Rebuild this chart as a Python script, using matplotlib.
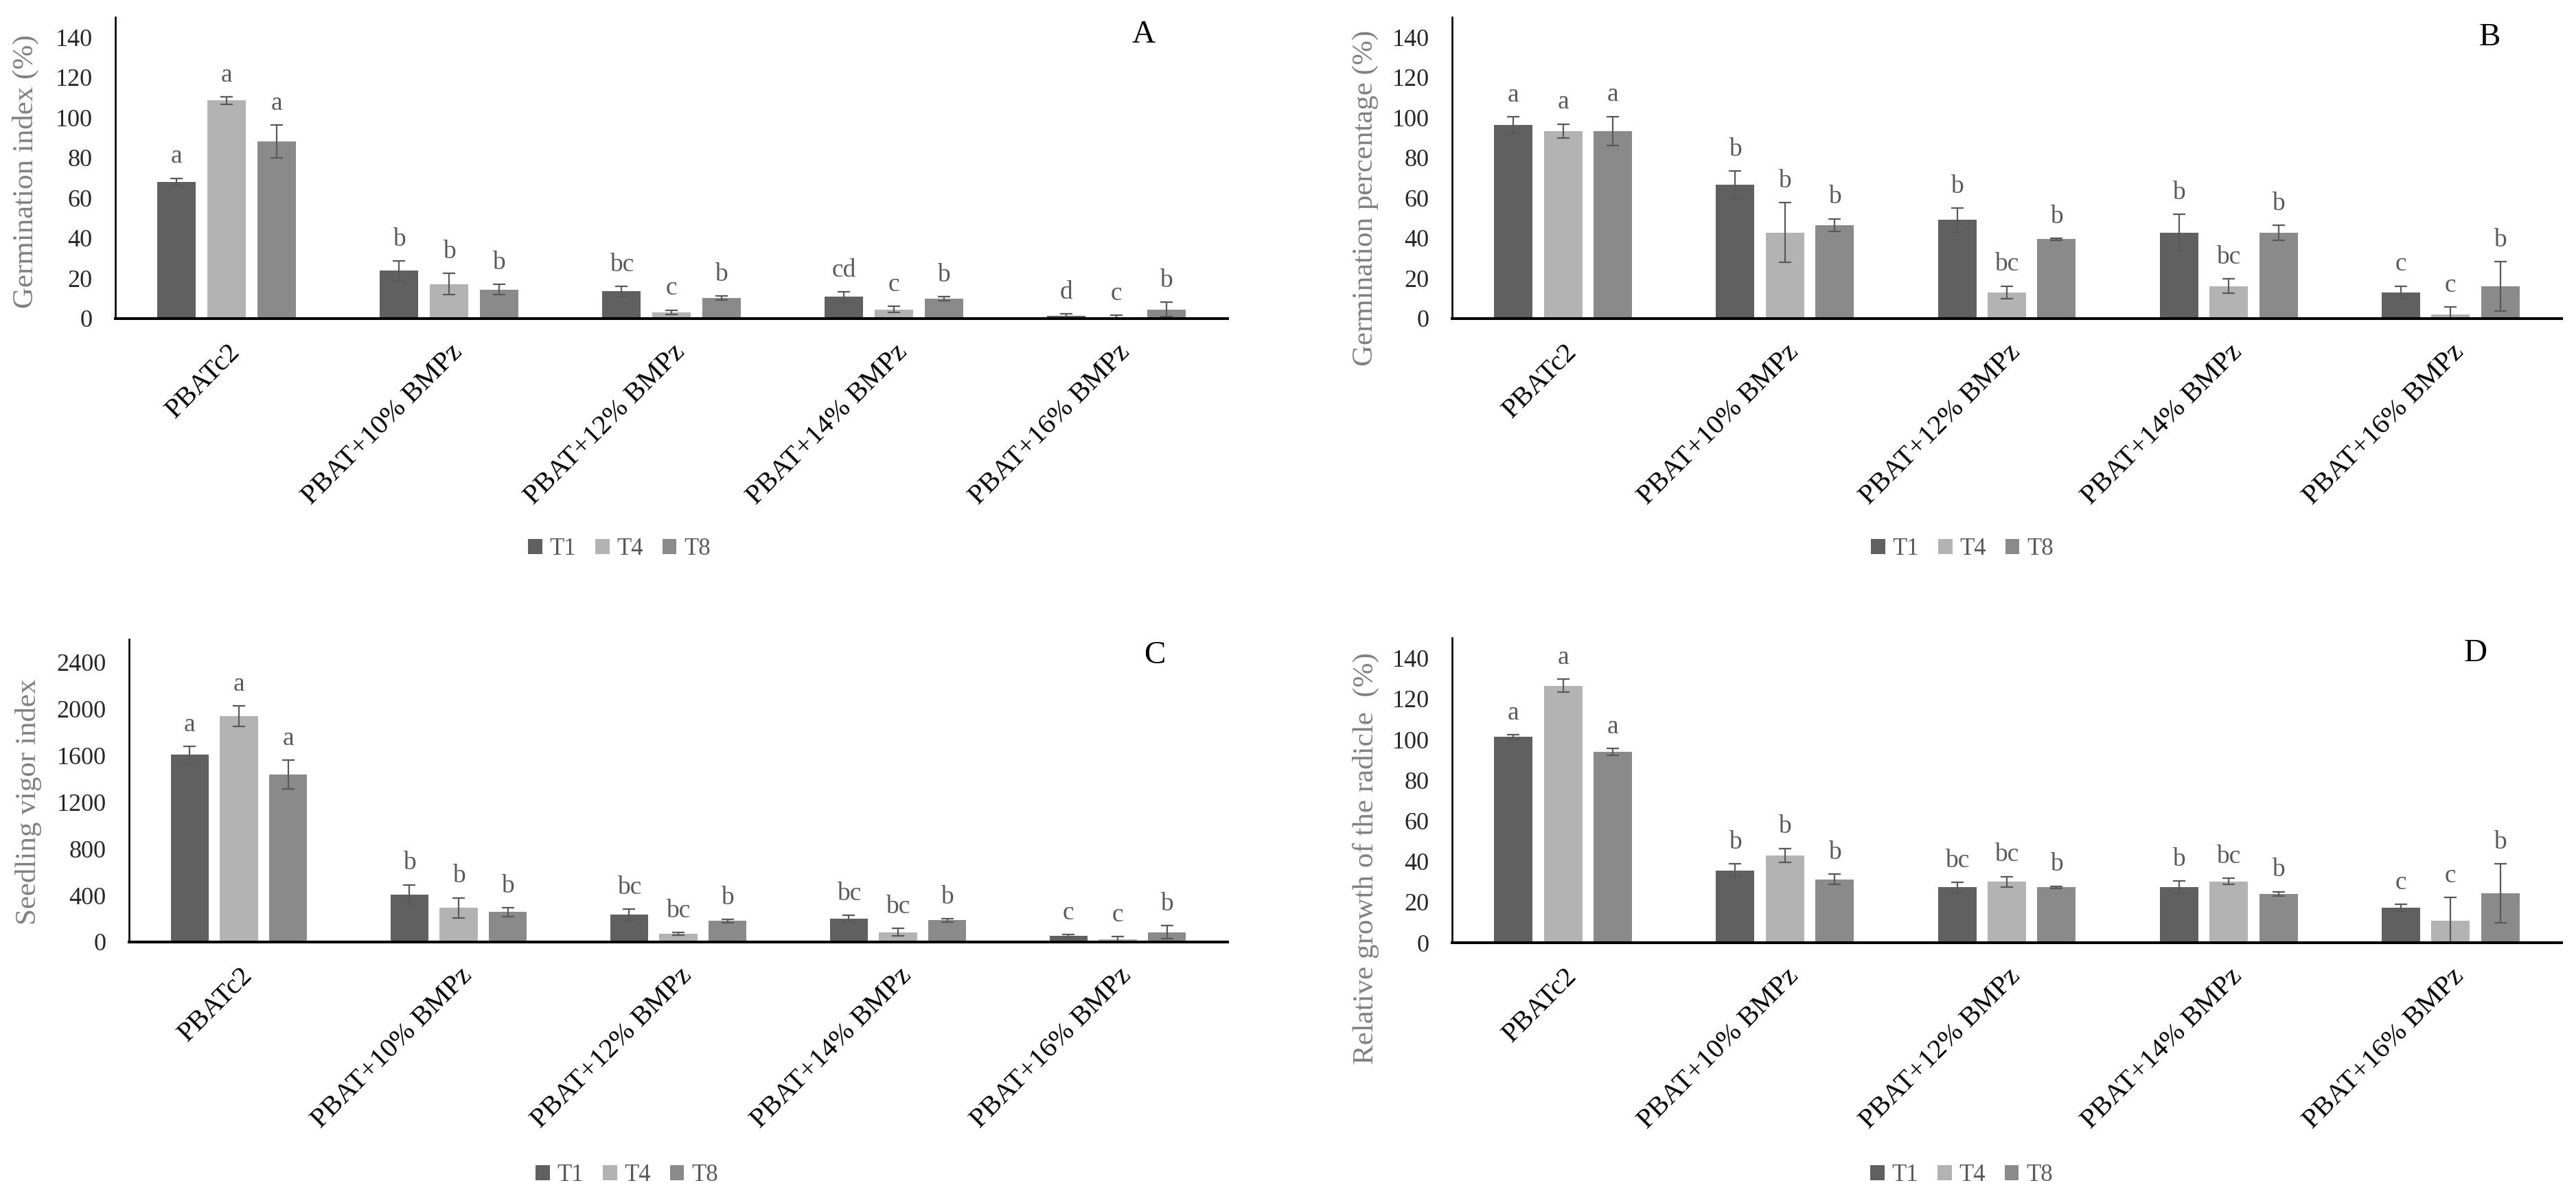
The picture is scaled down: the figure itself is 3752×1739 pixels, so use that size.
import matplotlib as mpl
mpl.use('Agg')
import numpy as np
import matplotlib.pyplot as plt
from matplotlib.patches import Patch

plt.rcParams['font.family'] = ['Liberation Serif', 'DejaVu Serif']

categories = ['PBATc2', 'PBAT+10% BMPz', 'PBAT+12% BMPz', 'PBAT+14% BMPz', 'PBAT+16% BMPz']
series = ['T1', 'T4', 'T8']
colors = ['#606060', '#b3b3b3', '#8a8a8a']

# A - germination index (%)
gi_mean = [[68.1, 23.8, 13.5, 10.8, 1.3],
           [108.5, 17.1, 3.2, 4.6, 0.5],
           [88.0, 14.5, 10.2, 9.8, 4.6]]
gi_err = [[1.7, 4.9, 2.5, 2.5, 1.0],
          [1.8, 5.3, 1.0, 1.5, 1.3],
          [8.2, 2.5, 1.0, 1.0, 3.5]]
gi_let = [['a', 'b', 'bc', 'cd', 'd'],
          ['a', 'b', 'c', 'c', 'c'],
          ['a', 'b', 'b', 'b', 'b']]

# B - germination percentage (%)
gp_mean = [[96.4, 66.6, 49.1, 42.8, 13.0],
           [93.3, 42.8, 13.0, 16.1, 2.2],
           [93.3, 46.5, 39.5, 42.8, 16.1]]
gp_err = [[4.0, 6.7, 6.0, 9.0, 3.2],
          [3.5, 14.8, 3.2, 3.6, 3.7],
          [7.3, 3.2, 0.5, 3.7, 12.3]]
gp_let = [['a', 'b', 'b', 'b', 'c'],
          ['a', 'b', 'bc', 'bc', 'c'],
          ['a', 'b', 'b', 'b', 'b']]

# C - seedling vigor index
sv_mean = [[1607, 407, 233, 200, 52],
           [1939, 294, 71, 84, 26],
           [1436, 258, 181, 187, 84]]
sv_err = [[73, 85, 48, 30, 10],
          [88, 86, 10, 32, 20],
          [124, 37, 15, 15, 55]]
sv_let = [['a', 'b', 'bc', 'bc', 'c'],
          ['a', 'b', 'bc', 'bc', 'c'],
          ['a', 'b', 'b', 'b', 'b']]

# D - relative growth of the radicle (%)
rg_mean = [[101.4, 35.6, 27.3, 27.3, 17.3],
           [126.5, 43.0, 30.0, 30.2, 10.8],
           [93.8, 31.2, 27.3, 24.1, 24.3]]
rg_err = [[1.0, 3.3, 2.5, 3.0, 1.7],
          [3.2, 3.4, 2.6, 1.4, 11.5],
          [1.7, 2.5, 0.5, 1.0, 14.4]]
rg_let = [['a', 'b', 'bc', 'b', 'c'],
          ['a', 'b', 'bc', 'bc', 'c'],
          ['a', 'b', 'b', 'b', 'b']]

W, H = 3752, 1739
fig = plt.figure(figsize=(W/100., H/100.), dpi=100)

def px(l, t, r, b):
    return [l/W, 1-b/H, (r-l)/W, (b-t)/H]

panels = [
    dict(rect=px(168, 25, 1788, 464), mean=gi_mean, err=gi_err, let=gi_let, ymax=150,
         ticks=np.arange(0, 141, 20), ylabel='Germination index (%)', lab='A',
         ylab_pos=(37, 250), lab_pos=(1666, 51), leg=(902, 800)),
    dict(rect=px(2115, 25, 3731, 464), mean=gp_mean, err=gp_err, let=gp_let, ymax=150,
         ticks=np.arange(0, 141, 20), ylabel='Germination percentage (%)', lab='B',
         ylab_pos=(1989, 288), lab_pos=(3626, 55), leg=(2858, 800)),
    dict(rect=px(188, 931, 1788, 1372), mean=sv_mean, err=sv_err, let=sv_let, ymax=2600,
         ticks=np.arange(0, 2401, 400), ylabel='Seedling vigor index', lab='C',
         ylab_pos=(42, 1168), lab_pos=(1682, 955), leg=(913, 1712)),
    dict(rect=px(2115, 929, 3731, 1373), mean=rg_mean, err=rg_err, let=rg_let, ymax=150,
         ticks=np.arange(0, 141, 20), ylabel='Relative growth of the radicle  (%)', lab='D',
         ylab_pos=(1989, 1250), lab_pos=(3606, 952), leg=(2857, 1712)),
]

x = np.arange(len(categories))
bw = 0.173
step = 0.224

for p in panels:
    ax = fig.add_axes(p['rect'])
    for k in range(3):
        xs = x + (k-1)*step
        ax.bar(xs, p['mean'][k], bw, color=colors[k], edgecolor='none', zorder=2)
        ax.errorbar(xs, p['mean'][k], yerr=p['err'][k], fmt='none', ecolor='#595959',
                    elinewidth=1.6, capsize=6.5, capthick=1.6, zorder=3)
        for xi, m, e, s in zip(xs, p['mean'][k], p['err'][k], p['let'][k]):
            ax.annotate(s, xy=(xi, m+e), xytext=(0, 16), textcoords='offset points',
                        ha='center', va='baseline', fontsize=27, color='#595959')
    ax.set_xlim(-0.5, 4.5)
    ax.set_ylim(0, p['ymax'])
    ax.set_yticks(p['ticks'])
    ax.tick_params(axis='y', length=0, pad=24, labelsize=26, labelcolor='#262626')
    ax.set_xticks([])
    # category names, rotated 45 deg under each group
    for xi, c in zip(x, categories):
        ax.annotate(c, xy=(xi, 0), xycoords=('data', 'axes fraction'), xytext=(0.7, -22),
                    textcoords='offset points', ha='right', va='top', rotation=45,
                    rotation_mode='anchor', fontsize=29.5, color='black')
    for s in ['top', 'right']:
        ax.spines[s].set_visible(False)
    ax.spines['left'].set_linewidth(1.9)
    ax.spines['bottom'].set_linewidth(2.9)
    ax.spines['bottom'].set_zorder(4)
    fig.text(p['ylab_pos'][0]/W, 1-p['ylab_pos'][1]/H, p['ylabel'], rotation=90,
             ha='center', va='center', fontsize=31, color='#808080')
    fig.text(p['lab_pos'][0]/W, 1-p['lab_pos'][1]/H, p['lab'], ha='center', va='center',
             fontsize=34, color='black')
    handles = [Patch(facecolor=colors[k], edgecolor='none', label=series[k]) for k in range(3)]
    fig.legend(handles=handles, loc='center', ncol=3, frameon=False, fontsize=25,
               bbox_to_anchor=(p['leg'][0]/W, 1-p['leg'][1]/H), handlelength=0.6,
               handleheight=0.6, handletextpad=0.3, columnspacing=0.8, labelcolor='#595959')

plt.savefig('out.png', dpi=100)
plt.close()
